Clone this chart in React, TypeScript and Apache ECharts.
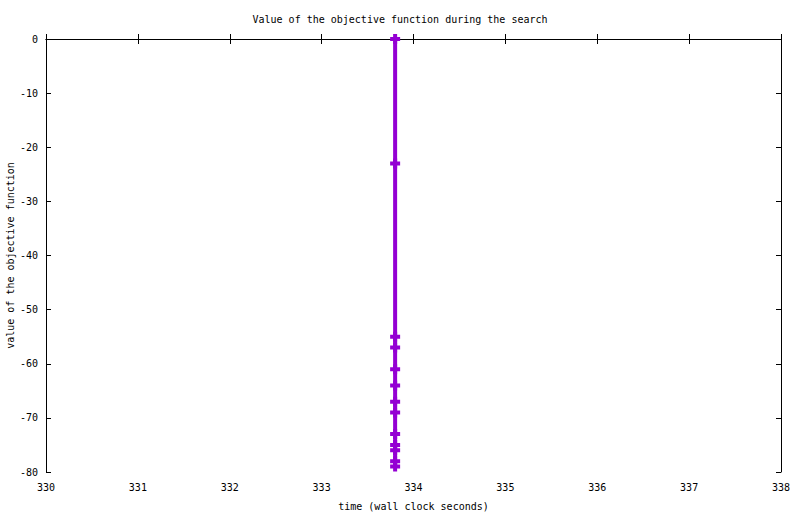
import React, { useEffect, useRef } from "react";
import * as echarts from "echarts";

const chartTitle = "Value of the objective function during the search";
const xAxisName = "time (wall clock seconds)";
const yAxisName = "value of the objective function";
const timeSeconds = [333.8, 333.8, 333.8, 333.8, 333.8, 333.8, 333.8, 333.8, 333.8, 333.8, 333.8, 333.8, 333.8];
const objectiveValues = [0, -23, -55, -57, -61, -64, -67, -69, -73, -75, -76, -78, -79];

const FONT = "DejaVu Sans Mono";

export default function App() {
  const ref = useRef<HTMLDivElement>(null);
  useEffect(() => {
    if (!ref.current) return;
    const chart = echarts.init(ref.current, null, { renderer: "svg" });
    const tickStyle = { show: true, inside: true, length: 5, lineStyle: { color: "#000", width: 1 } };
    const lineStyle = { show: true, lineStyle: { color: "#000", width: 1 } };
    chart.setOption({
      animation: false,
      backgroundColor: "#fff",
      title: {
        text: chartTitle,
        left: "center",
        top: 9,
        textStyle: { fontFamily: FONT, fontSize: 10, fontWeight: "normal", color: "#000" },
      },
      grid: { left: 46, right: 19, top: 39, bottom: 42, containLabel: false, outerBoundsMode: "none" },
      xAxis: [
        {
          type: "value",
          min: 330,
          max: 338,
          interval: 1,
          name: xAxisName,
          nameLocation: "middle",
          nameGap: 29,
          nameMoveOverlap: false,
          nameTextStyle: { fontFamily: FONT, fontSize: 10, color: "#000" },
          axisLine: lineStyle,
          axisTick: tickStyle,
          axisLabel: { fontFamily: FONT, fontSize: 10, color: "#000", margin: 10 },
          splitLine: { show: false },
        },
        {
          type: "value",
          position: "top",
          min: 330,
          max: 338,
          interval: 1,
          axisLine: lineStyle,
          axisTick: tickStyle,
          axisLabel: { show: false },
          splitLine: { show: false },
        },
      ],
      yAxis: [
        {
          type: "value",
          min: -80,
          max: 0,
          interval: 10,
          name: yAxisName,
          nameLocation: "middle",
          nameGap: 31,
          nameMoveOverlap: false,
          nameRotate: 90,
          nameTextStyle: { fontFamily: FONT, fontSize: 10, color: "#000" },
          axisLine: lineStyle,
          axisTick: tickStyle,
          axisLabel: { fontFamily: FONT, fontSize: 10, color: "#000", margin: 8 },
          splitLine: { show: false },
        },
        {
          type: "value",
          position: "right",
          min: -80,
          max: 0,
          interval: 10,
          axisLine: lineStyle,
          axisTick: tickStyle,
          axisLabel: { show: false },
          splitLine: { show: false },
        },
      ],
      series: [
        {
          type: "line",
          clip: false,
          data: timeSeconds.map((t, i) => [t, objectiveValues[i]]),
          lineStyle: { color: "#9400D3", width: 4 },
          itemStyle: { color: "#9400D3" },
          symbol: "path://M0,3H10V7H0Z M3,0H7V10H3Z",
          symbolSize: 10,
          showSymbol: true,
        },
      ],
    });
    return () => chart.dispose();
  }, []);
  return (
    <div
      ref={ref}
      style={{ position: "absolute", left: 0, top: 0, width: 800, height: 514 }}
    />
  );
}
